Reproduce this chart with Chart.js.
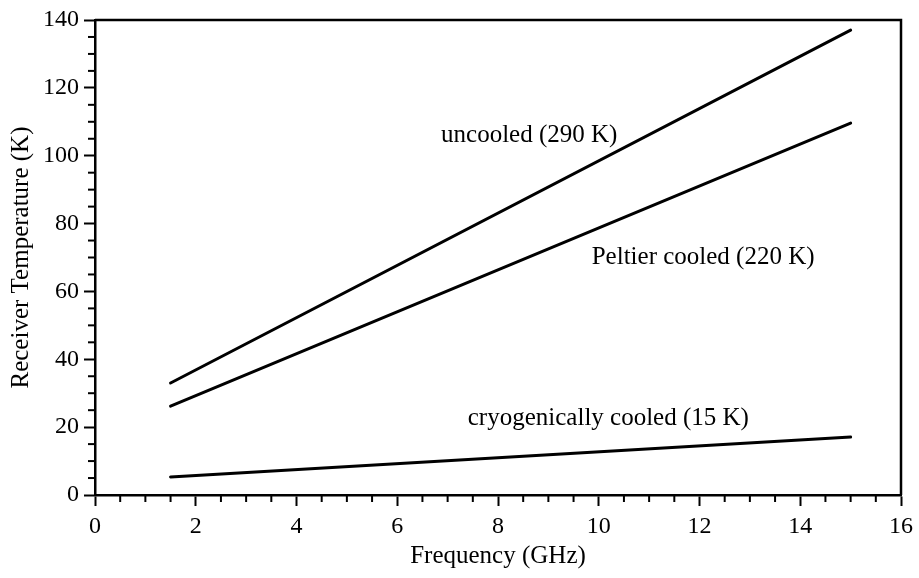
<!DOCTYPE html>
<html>
<head>
<meta charset="utf-8">
<script src="https://cdn.jsdelivr.net/npm/chart.js@4.4.0/dist/chart.umd.min.js"></script>
<style>
  html, body { margin: 0; padding: 0; background: #fff; }
  #wrap { width: 919px; height: 578px; }
</style>
</head>
<body>
<div id="wrap"><canvas id="tempChart"></canvas></div>
<script>
// values
const freq = [1.5, 15];
const uncooled = [33, 137];
const peltier = [26.2, 109.6];
const cryo = [5.3, 17.1];
const seriesNames = ["uncooled (290 K)", "Peltier cooled (220 K)", "cryogenically cooled (15 K)"];
const xTicks = [0, 2, 4, 6, 8, 10, 12, 14, 16];
const yTicks = [0, 20, 40, 60, 80, 100, 120, 140];

const serif = "'Liberation Serif', 'DejaVu Serif', serif";

function pts(ys){
    return freq.map((f, i) => ({x: f, y: ys[i]}));
}

// minor ticks, box frame and in-plot labels
const extras = {
    id: 'extras',
    afterDraw(chart){
        const ctx = chart.ctx;
        const xs = chart.scales.x, ys = chart.scales.y;
        const a = chart.chartArea;
        ctx.save();
        ctx.strokeStyle = '#000';
        ctx.lineWidth = 2;
        // minor ticks
        for(let v = 0; v <= 16; v += 0.5){
            if(v % 2 === 0) continue;
            const px = xs.getPixelForValue(v);
            ctx.beginPath(); ctx.moveTo(px, a.bottom); ctx.lineTo(px, a.bottom + 7); ctx.stroke();
        }
        for(let v = 0; v <= 140; v += 5){
            if(v % 20 === 0) continue;
            const py = ys.getPixelForValue(v);
            ctx.beginPath(); ctx.moveTo(a.left, py); ctx.lineTo(a.left - 7, py); ctx.stroke();
        }
        // top & right border
        ctx.lineWidth = 2.5;
        ctx.beginPath();
        ctx.moveTo(a.left, a.top); ctx.lineTo(a.right, a.top); ctx.lineTo(a.right, a.bottom);
        ctx.stroke();
        // series labels
        ctx.fillStyle = '#000';
        ctx.font = "25px " + serif;
        ctx.textBaseline = 'middle';
        const spots = [[6.87, 106], [9.86, 70.1], [7.4, 22.6]];
        seriesNames.forEach((t, i) => {
            ctx.fillText(t, xs.getPixelForValue(spots[i][0]), ys.getPixelForValue(spots[i][1]));
        });
        ctx.restore();
    }
};

const ctxT = document.getElementById("tempChart").getContext('2d');
const tempChart = new Chart(ctxT, {
    type: 'line',
    data: {
        datasets: [
            {label: seriesNames[0], data: pts(uncooled)},
            {label: seriesNames[1], data: pts(peltier)},
            {label: seriesNames[2], data: pts(cryo)}
        ].map(d => Object.assign(d, {borderColor: '#000', borderWidth: 3, pointRadius: 0, fill: false, tension: 0, borderCapStyle: 'round'}))
    },
    options: {
        responsive: true,
        maintainAspectRatio: false,
        animation: false,
        layout: {padding: {top: 20, right: 17, left: 0, bottom: 0}},
        plugins: {legend: {display: false}, tooltip: {enabled: false}},
        scales: {
            x: {
                type: 'linear', min: 0, max: 16,
                afterBuildTicks: s => { s.ticks = xTicks.map(v => ({value: v})); },
                afterFit: s => { s.height = 83; },
                grid: {drawOnChartArea: false, tickLength: 11, tickWidth: 2, tickColor: '#000'},
                border: {color: '#000', width: 2.5},
                ticks: {color: '#000', font: {family: serif, size: 24}, padding: 6, maxRotation: 0},
                title: {display: true, text: 'Frequency (GHz)', color: '#000', font: {family: serif, size: 25}, padding: {top: 0, bottom: 7}}
            },
            y: {
                min: 0, max: 140,
                afterBuildTicks: s => { s.ticks = yTicks.map(v => ({value: v})); },
                afterFit: s => { s.width = 95; },
                grid: {drawOnChartArea: false, tickLength: 11, tickWidth: 2, tickColor: '#000'},
                border: {color: '#000', width: 2.5},
                ticks: {color: '#000', font: {family: serif, size: 24}, padding: 5},
                title: {display: true, text: 'Receiver Temperature (K)', color: '#000', font: {family: serif, size: 25}, padding: {top: 6, bottom: 0}}
            }
        }
    },
    plugins: [extras]
});
</script>
</body>
</html>
